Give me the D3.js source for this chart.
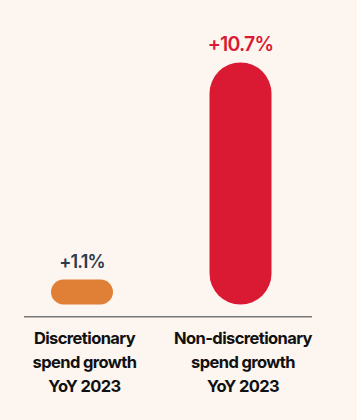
<!DOCTYPE html>
<html><head><meta charset="utf-8">
<script src="https://cdn.jsdelivr.net/npm/d3@7"></script>
<style>
html,body{margin:0;padding:0;background:#fdf5f0;}
svg{display:block;}
</style></head>
<body><svg id="chart" width="357" height="420"></svg>
<script>
const categories = ["Discretionary", "Non-discretionary"];
const labelLines = [["Discretionary", "spend growth", "YoY 2023"], ["Non-discretionary", "spend growth", "YoY 2023"]];
const values = [1.1, 10.7];
const valueLabels = ["+1.1%", "+10.7%"];
const colors = ["#e08036", "#da1a33"];
const labelColors = ["#2d3a4c", "#da1a33"];

const svg = d3.select("#chart");
svg.append("rect").attr("width", 357).attr("height", 420).attr("fill", "#fdf5f0");

const x = d3.scaleBand().domain(categories).range([51, 271.5]).paddingInner(0.609).paddingOuter(0);
const y = d3.scaleLinear().domain([0, 10.7]).range([304.5, 62.5]);

const g = svg.append("g");
categories.forEach((c, i) => {
  const bw = x.bandwidth();
  const h = y(0) - y(values[i]);
  const r = Math.min(bw, h) / 2;
  g.append("rect")
    .attr("x", x(c)).attr("y", y(values[i]))
    .attr("width", bw).attr("height", h)
    .attr("rx", r).attr("ry", r)
    .attr("fill", colors[i]);
  g.append("text")
    .attr("x", x(c) + bw / 2).attr("y", y(values[i]) - 12)
    .attr("text-anchor", "middle")
    .attr("font-family", "Inter, sans-serif").attr("font-weight", 600)
    .attr("font-size", i === 1 ? 19.5 : 18).attr("letter-spacing", -0.8)
    .attr("fill", labelColors[i])
    .text(valueLabels[i]);
  const t = g.append("text")
    .attr("text-anchor", "middle")
    .attr("font-family", "Inter, sans-serif").attr("font-weight", 700)
    .attr("font-size", 16.5).attr("letter-spacing", -0.6)
    .attr("fill", "#111");
  labelLines[i].forEach((ln, j) => {
    t.append("tspan").attr("x", x(c) + bw / 2 + 2.5).attr("y", 343.5 + j * 24).text(ln);
  });
});

svg.append("line").attr("x1", 24).attr("x2", 312).attr("y1", 316.8).attr("y2", 316.8)
  .attr("stroke", "#777").attr("stroke-width", 1.5);
</script></body></html>
